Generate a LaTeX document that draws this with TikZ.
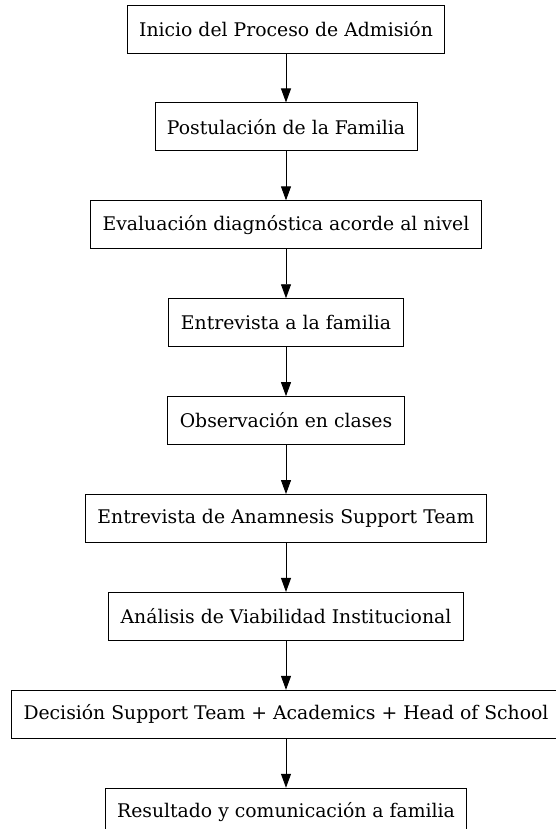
\documentclass[tikz,border=0pt]{standalone}
\usepackage{fontspec}
\setmainfont{DejaVu Serif}
\usetikzlibrary{positioning,arrows.meta}

\tikzset{
  paso/.style={draw, line width=0.9pt, minimum height=48pt, inner xsep=12pt,
    font=\fontsize{18.8}{22}\selectfont},
  flecha/.style={line width=0.9pt, -{Triangle[length=14pt,width=10pt]}}
}

\begin{document}
\begin{tikzpicture}[x=1pt,y=1pt]
    \useasboundingbox (0,0) rectangle (555,-829);
    \node[paso] (inicio) at (286,-29) {Inicio del Proceso de Admisión};
    \node[paso, below=49pt of inicio] (postulacion) {Postulación de la Familia};
    \node[paso, below=49pt of postulacion] (evaluacion) {Evaluación diagnóstica acorde al nivel};
    \node[paso, below=49pt of evaluacion] (entrevista) {Entrevista a la familia};
    \node[paso, below=49pt of entrevista] (observacion) {Observación en clases};
    \node[paso, below=49pt of observacion] (anamnesis) {Entrevista de Anamnesis Support Team};
    \node[paso, below=49pt of anamnesis] (analisis) {Análisis de Viabilidad Institucional};
    \node[paso, below=49pt of analisis] (decision) {Decisión Support Team + Academics + Head of School};
    \node[paso, below=49pt of decision] (resultado) {Resultado y comunicación a familia};

    \draw[flecha] (inicio) -- (postulacion);
    \draw[flecha] (postulacion) -- (evaluacion);
    \draw[flecha] (evaluacion) -- (entrevista);
    \draw[flecha] (entrevista) -- (observacion);
    \draw[flecha] (observacion) -- (anamnesis);
    \draw[flecha] (anamnesis) -- (analisis);
    \draw[flecha] (analisis) -- (decision);
    \draw[flecha] (decision) -- (resultado);
\end{tikzpicture}
\end{document}
